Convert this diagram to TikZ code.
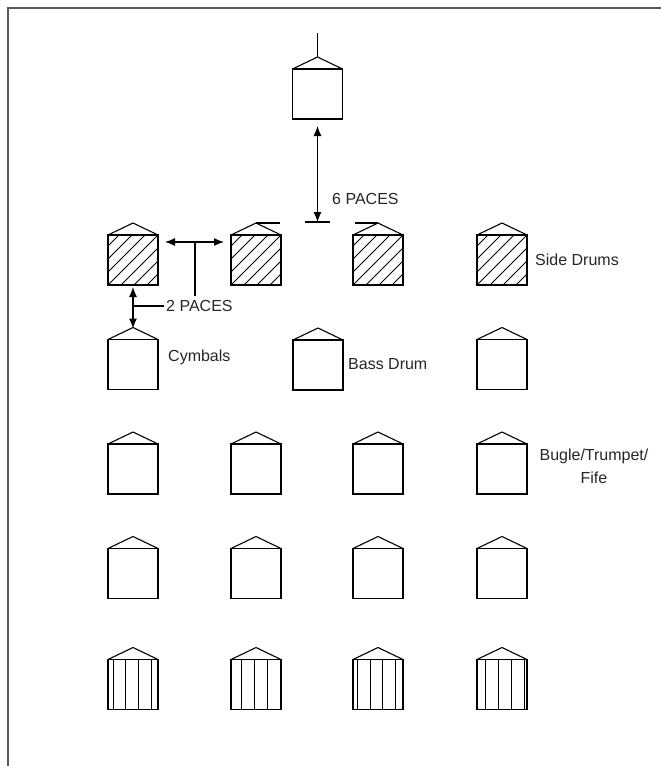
\documentclass[tikz,border=0pt]{standalone}
\usepackage{fontspec}
\setmainfont{Liberation Sans}
\usetikzlibrary{arrows.meta,calc}
\tikzset{
  box/.style={draw=black, line width=1.3pt, minimum width=50pt, minimum height=50pt, inner sep=0pt, outer sep=0pt},
  roofline/.style={draw=black, line width=1.1pt},
  hatchline/.style={draw=black, line width=0.9pt},
  dimline/.style={draw=black, line width=1.2pt},
  dimarrow/.style={dimline, {Latex[length=10pt,width=8pt]}-{Latex[length=10pt,width=8pt]}},
  lbl/.style={font=\fontsize{16pt}{19pt}\selectfont, text=black!85, inner sep=0pt, anchor=west},
}
\begin{document}
\begin{tikzpicture}[x=1pt,y=-1pt]
\useasboundingbox (0,0) rectangle (661,766);
% frame
\draw[line width=1.8pt, draw=black!65] (8,800) -- (8,8) -- (700,8);

% boxes
\node[box] (lead) at (317.5,94) {};
\foreach \c/\x in {1/133,2/256,3/378,4/502}{
  \node[box] (sd\c) at (\x,260) {};
  \node[box] (bg\c) at (\x,469) {};
  \node[box] (r5\c) at (\x,573.5) {};
  \node[box] (vb\c) at (\x,684.5) {};
}
\node[box] (cym) at (133,364.5) {};
\node[box] (bass) at (318,365) {};
\node[box] (r3c4) at (502,364.5) {};

% roofs
\foreach \n in {lead,sd1,sd2,sd3,sd4,cym,bass,r3c4,bg1,bg2,bg3,bg4,r51,r52,r53,r54,vb1,vb2,vb3,vb4}{
  \draw[roofline] (\n.north west) -- ($(\n.north)+(0,-12)$) -- (\n.north east);
}
% hatching of side drums
\foreach \n in {sd1,sd2,sd3,sd4}{
  \begin{scope}
    \clip (\n.north west) rectangle (\n.south east);
    \foreach \k in {-6,...,6}{
      \draw[hatchline] ($(\n.south west)+(\k*13,0)$) -- ++(60,-60);
    }
  \end{scope}
}
% vertical lines of last row
\foreach \n in {vb1,vb2,vb3,vb4}{
  \begin{scope}
    \clip (\n.north west) rectangle (\n.south east);
    \foreach \k in {0,...,33}{
      \draw[hatchline] (113+\k*12.85,640) -- (113+\k*12.85,720);
    }
  \end{scope}
}

% stem on top
\coordinate (stemtop) at (317.5,33);
\draw[roofline] (stemtop) -- ($(lead.north)+(0,-12)$);

% 6 paces dimension
\coordinate (bar) at (317.5,222);
\draw[dimline] (305,222) -- (330,222);
\draw[dimarrow] ($(lead.south)+(0,7)$) -- (bar);
\draw[dimline] ($(sd2.north)+(0,-12)$) -- ++(24,0);
\draw[dimline] ($(sd3.north)+(0,-12)$) -- ++(-23,0);
\node[lbl] (six) at (332,199) {6 PACES};

% 2 paces dimensions
\coordinate (hl) at (165,242);
\coordinate (hr) at (224,242);
\draw[dimarrow] (hl) -- (hr);
\coordinate (hm) at (195,242);
\node[lbl] (two) at (166,306) {2 PACES};
\draw[dimline] (hm) -- (195,296);
\draw[dimarrow] ($(sd1.south)+(0,2)$) -- ($(cym.north)+(0,-11)$);
\draw[dimline] (133,306) -- ($(two.west)+(-2,0)$);

% labels
\node[lbl] (sdl) at (535,260) {Side Drums};
\node[lbl] (cyl) at (168,357) {Cymbals};
\node[lbl] (bdl) at (348,364) {Bass Drum};
\node[lbl, anchor=center, align=center, font=\fontsize{16pt}{23pt}\selectfont] (bugl) at (594,466) {Bugle/Trumpet/\\Fife};
\end{tikzpicture}
\end{document}
